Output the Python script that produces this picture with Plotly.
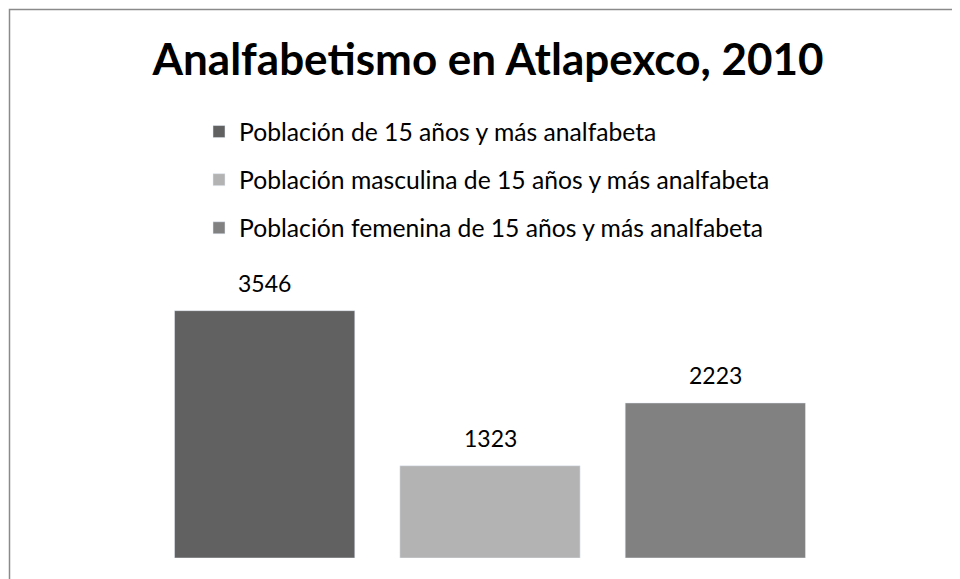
import plotly.graph_objects as go

# Data
series_names = [
    "Población de 15 años y más analfabeta",
    "Población masculina de 15 años y más analfabeta",
    "Población femenina de 15 años y más analfabeta",
]
categories = ["total", "masculina", "femenina"]
values = [3546, 1323, 2223]
colors = ["#616161", "#b3b3b3", "#818181"]
title_text = "Analfabetismo en Atlapexco, 2010"

W, H = 960, 579
ML, MR, MT, MB = 144, 140, 271, 29
PW, PH = W - ML - MR, H - MT - MB

def px_x(px):
    return (px - ML) / PW

def px_y(py):
    return (H - MB - py) / PH

fig = go.Figure()
for i, (name, cat, val, col) in enumerate(zip(series_names, categories, values, colors)):
    fig.add_trace(go.Bar(
        x=[cat], y=[val], name=name, marker_color=col, width=0.8,
        legendgroup=f"g{i}", hoverinfo="y+name",
    ))
    fig.add_annotation(
        x=cat, y=val, text=str(val), showarrow=False, yanchor="bottom",
        yshift=12, font=dict(family="Lato", size=23, color="#000000"),
    )

fig.update_layout(
    width=W, height=H,
    margin=dict(l=ML, r=MR, t=MT, b=MB),
    paper_bgcolor="white", plot_bgcolor="white",
    barmode="overlay",
    title=dict(
        text=f"<b>{title_text}</b>", x=0.5, xref="container", xanchor="center",
        y=1 - 52 / H, yref="container", yanchor="middle",
        font=dict(family="Lato", size=44, color="#000000"),
    ),
    legend=dict(
        x=px_x(191), y=px_y(101), xanchor="left", yanchor="top",
        font=dict(family="Lato", size=24.7, color="#000000"),
        tracegroupgap=13, bgcolor="rgba(0,0,0,0)",
    ),
    showlegend=True,
    xaxis=dict(visible=False, categoryorder="array", categoryarray=categories,
               range=[-0.5, 2.5]),
    yaxis=dict(visible=False, range=[0, 4000]),
    shapes=[dict(
        type="rect", xref="paper", yref="paper",
        x0=px_x(1.5), x1=px_x(962), y0=px_y(578), y1=px_y(1.5),
        line=dict(color="#8a8a8a", width=1.5), layer="below",
    )],
)

fig.write_html("out.html")
